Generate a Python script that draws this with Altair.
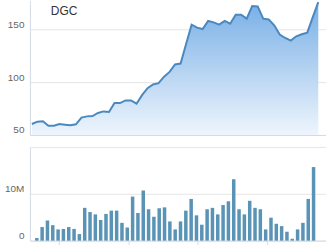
import altair as alt
import pandas as pd

ticker = "DGC"
price = [60.4, 62.6, 62.9, 58.8, 58.8, 60.4, 59.7, 59.1, 60.1, 66.4,
         67.6, 67.9, 70.8, 72.3, 71.7, 80.2, 80.2, 82.7, 82.7, 79.6,
         87.7, 94.3, 97.8, 99.1, 105.2, 109.7, 116.7, 117.6, 136.2, 154.4,
         151.6, 150.3, 157.9, 156.6, 154.4, 157.9, 155.3, 163.8, 163.8, 160.1,
         172.0, 171.7, 160.1, 159.4, 153.8, 145.0, 141.8, 139.3, 143.4, 145.3,
         146.9, 161.6, 175.8]
volume_m = [0.57, 2.9, 4.3, 3.3, 2.4, 2.5, 2.9, 2.5, 1.4, 7.0,
            6.1, 5.6, 4.4, 5.7, 6.4, 6.4, 3.8, 2.8, 9.4, 5.9,
            10.7, 6.7, 5.1, 6.9, 7.1, 4.1, 2.4, 4.1, 6.4, 8.9,
            5.4, 3.4, 6.7, 7.0, 5.6, 7.6, 8.4, 13.1, 6.7, 5.6,
            8.5, 7.0, 6.7, 2.4, 4.9, 3.6, 3.1, 1.9, 0.4, 2.4,
            3.8, 8.9, 15.7]
price_ticks = [50, 100, 150]
vol_ticks = [0, 10_000_000, 20_000_000]
x_tick_pos = [4.17, 17.2, 30.25, 43.3]

df = pd.DataFrame({
    "i": list(range(len(price))),
    "price": price,
    "volume": [v * 1_000_000 for v in volume_m],
})

FONT = "Liberation Sans"
W = 297
xdom = [-0.36, 53.4]
grid_c = "#e6e6e6"
dom_c = "#d5dae6"

xs = alt.Scale(domain=xdom, nice=False, zero=False)

grad = alt.Gradient(
    gradient="linear",
    stops=[alt.GradientStop(color="#eef5fd", offset=0),
           alt.GradientStop(color="#78afe6", offset=1)],
    x1=1, x2=1, y1=1, y2=0,
)
yscale = alt.Scale(domain=[50, 177.4], nice=False, zero=False)
area = alt.Chart(df).mark_area(color=grad, clip=True).encode(
    x=alt.X("i:Q", scale=xs, axis=alt.Axis(labels=False, ticks=False, grid=False,
                                             domainColor=dom_c, title=None)),
    y=alt.Y("price:Q", scale=yscale,
            axis=alt.Axis(values=price_ticks, title=None, grid=True, gridColor=grid_c,
                          ticks=False, domainColor=dom_c, labelColor="#666666",
                          labelFontSize=10, labelFont=FONT, labelBaseline="bottom",
                          labelPadding=6)),
    y2=alt.datum(50),
)
line = alt.Chart(df).mark_line(color="#4a89bf", strokeWidth=2, clip=True).encode(
    x=alt.X("i:Q", scale=xs),
    y=alt.Y("price:Q", scale=yscale),
)
label = alt.Chart(pd.DataFrame({"t": [ticker]})).mark_text(
    align="left", baseline="middle", fontSize=12, font=FONT, color="#333333"
).encode(text="t:N", x=alt.value(21), y=alt.value(11))
top = alt.layer(area, line, label).properties(width=W, height=135)

bars = alt.Chart(df).mark_bar(color="#5993b5", size=3.5).encode(
    x=alt.X("i:Q", scale=xs,
            axis=alt.Axis(values=x_tick_pos, labels=False, ticks=True, tickSize=4,
                          tickColor=dom_c, grid=False, domainColor=dom_c, title=None)),
    y=alt.Y("volume:Q", scale=alt.Scale(domain=[0, 20_000_000], nice=False),
            axis=alt.Axis(values=vol_ticks, title=None, grid=True, gridColor=grid_c,
                          ticks=False, domainColor=dom_c, labelColor="#666666",
                          labelFontSize=10, labelFont=FONT, labelBaseline="bottom",
                          labelPadding=6,
                          labelExpr="datum.value == 0 ? '0' : (datum.value >= 20000000 ? '' : datum.value/1000000 + 'M')")),
).properties(width=W, height=94)

chart = alt.vconcat(top, bars, spacing=12).properties(
    padding={"left": 4, "top": 0, "right": 0, "bottom": 0},
    background="white",
).configure_view(stroke=None)

chart.save("out.html", embed_options={"renderer": "svg", "actions": False})
